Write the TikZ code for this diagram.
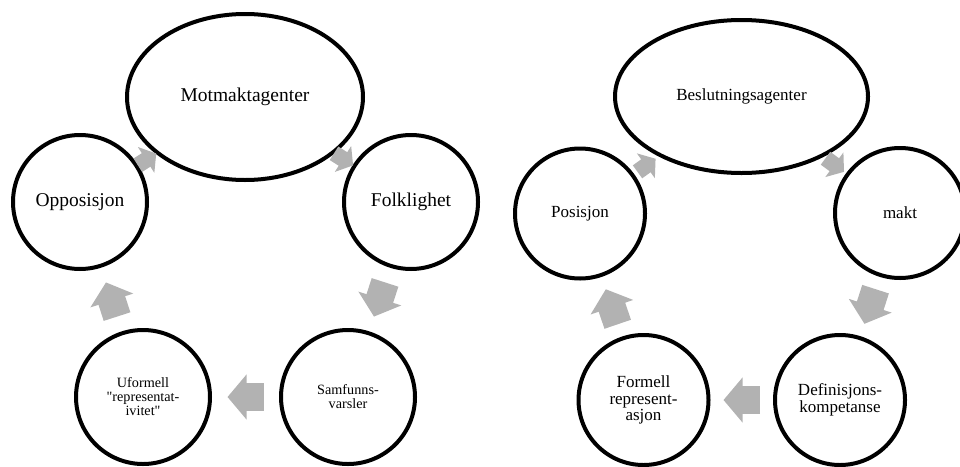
\documentclass[tikz,border=0pt]{standalone}
\usepackage{fontspec}
\setmainfont[Ligatures=TeXOff]{Liberation Serif}
\usepackage{tikz}
\usetikzlibrary{arrows.meta}
\usetikzlibrary{shapes.geometric}
\definecolor{arrowgray}{rgb}{0.7, 0.7, 0.7}

\begin{document}
\begin{tikzpicture}[line join=round, x=1pt, y=-1pt,
  agent/.style={ellipse, draw, line width=4pt, inner sep=0pt, outer sep=0pt},
  ring/.style={circle, draw, line width=4pt, inner sep=0pt, outer sep=0pt, minimum size=134pt, align=center},
  bigtext/.style={font=\fontsize{19.5}{20}\selectfont},
  smalltext/.style={font=\fontsize{14.2}{14}\selectfont},
  midtext/.style={font=\fontsize{17}{16.5}\selectfont},
  flow/.style={color=arrowgray, line width=28pt, line cap=butt, -{Triangle[length=19pt, width=44pt]}, shorten <=17.5pt, shorten >=17.5pt},
  flowsmall/.style={color=arrowgray, line width=16pt, line cap=butt, -{Triangle[length=12pt, width=30pt]}, shorten <=1.5pt, shorten >=1.5pt}]
\useasboundingbox (0,0) rectangle (960,466);

% Motmakt
\node[agent, minimum width=236pt, minimum height=166pt, bigtext] (mot) at (245,97) {Motmaktagenter};
\node[ring, bigtext] (opp) at (80,202) {Opposisjon};
\node[ring, bigtext] (fol) at (411,202) {Folklighet};
\node[ring, smalltext] (sam) at (348,397) {Samfunns-\\varsler};
\node[ring, smalltext] (ufo) at (143,397) {Uformell\\"representat-\\ivitet"};

\draw[flowsmall] (mot) -- (fol);
\draw[flow] (fol) -- (sam);
\draw[flow] (sam) -- (ufo);
\draw[flow] (ufo) -- (opp);
\draw[flowsmall] (opp) -- (mot);

% Beslutning
\node[agent, minimum width=253pt, minimum height=153pt, midtext] (bes) at (741.5,96.5) {Beslutningsagenter};
\node[ring, minimum size=130pt, midtext] (pos) at (580,213.5) {Posisjon};
\node[ring, minimum size=130pt, midtext] (mak) at (900,213) {makt};
\node[ring, minimum size=130pt, midtext] (def) at (840,400) {Definisjons-\\kompetanse};
\node[ring, minimum size=130pt, midtext] (for) at (643.5,400) {Formell\\represent-\\asjon};

\draw[flowsmall, shorten <=4.5pt, shorten >=4.5pt] (bes) -- (mak);
\draw[flow, shorten <=15pt, shorten >=15pt] (mak) -- (def);
\draw[flow, shorten <=15pt, shorten >=15pt] (def) -- (for);
\draw[flow, shorten <=15pt, shorten >=15pt] (for) -- (pos);
\draw[flowsmall, shorten <=6pt, shorten >=6pt] (pos) -- (bes);
\end{tikzpicture}
\end{document}
